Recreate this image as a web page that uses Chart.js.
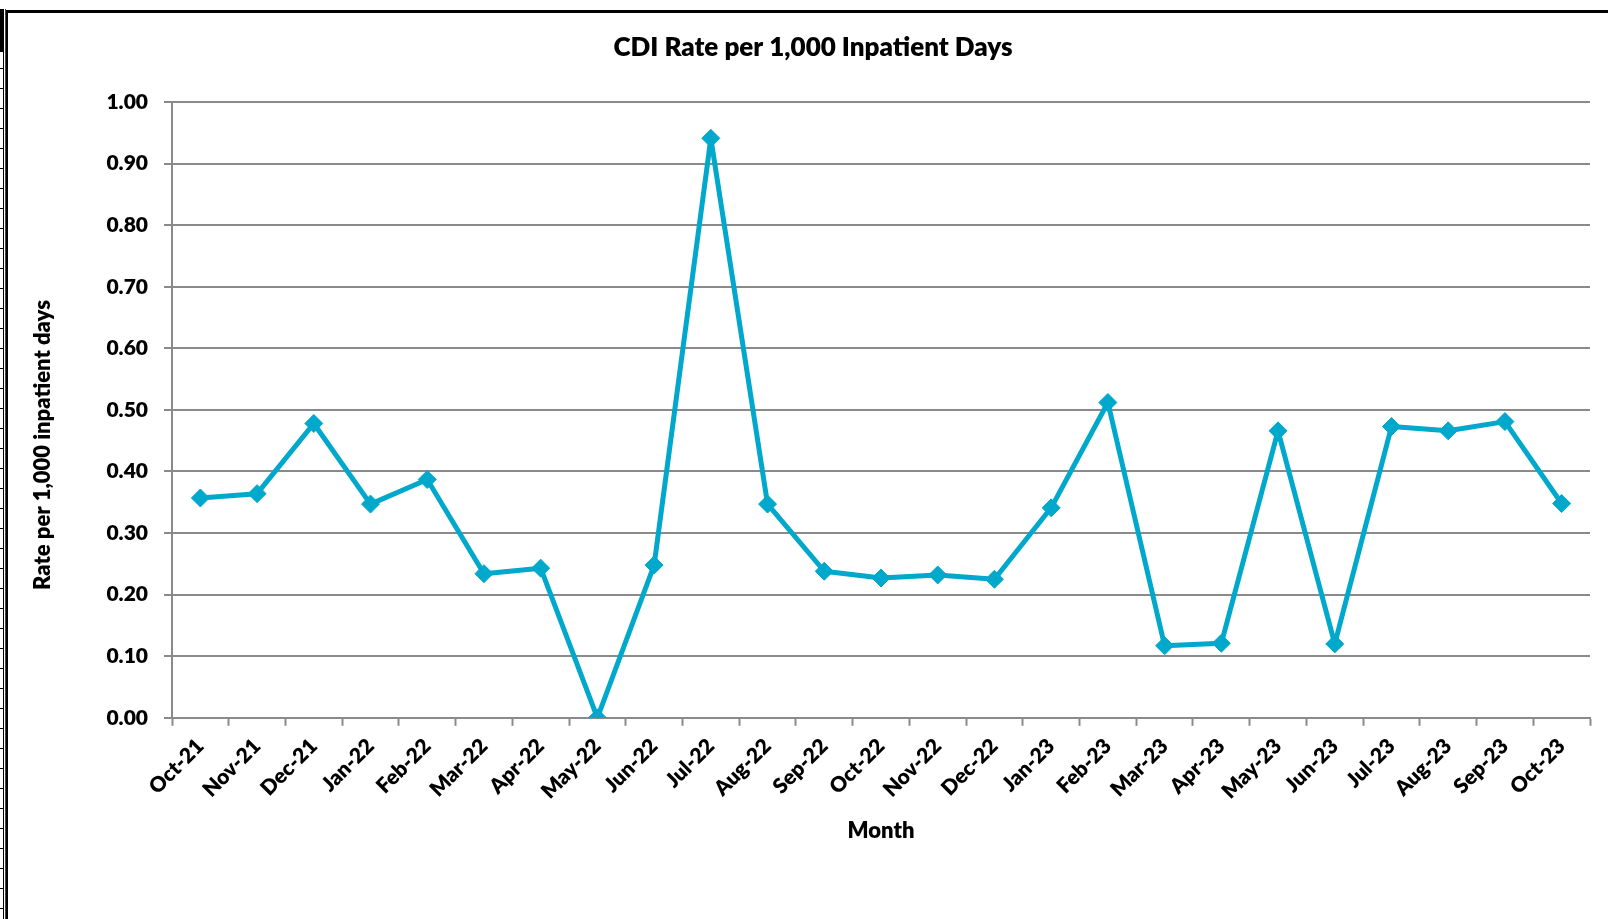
<!DOCTYPE html>
<html>
<head>
<meta charset="utf-8">
<title>CDI Rate per 1,000 Inpatient Days</title>
<script src="https://cdn.jsdelivr.net/npm/chart.js@4.4.1/dist/chart.umd.min.js"></script>
<style>
	html, body { margin: 0; padding: 0; background: #fff; }
	body { width: 1608px; height: 919px; position: relative; overflow: hidden; }
	#myChart { position: absolute; left: 0; top: 0; }
	.frame { position: absolute; left: 6px; top: 10px; right: -10px; bottom: -10px; border-top: 3px solid #000; border-left: 2px solid #000; }
	.edge { position: absolute; left: 0; top: 9px; bottom: 0; width: 4px;
		background: repeating-linear-gradient(to bottom, transparent 0, transparent 19px, #000 19px, #000 20px); }
	.edge-line { position: absolute; left: 3px; top: 9px; bottom: 0; width: 1px; background: #000; }
	.edge-line2 { position: absolute; left: 5px; top: 9px; bottom: 0; width: 1px; background: #444; }
	.edge-block { position: absolute; left: 0; top: 9px; width: 4px; height: 43px; background: #000; }
</style>
</head>
<body>
<div class="edge"></div>
<div class="edge-line"></div>
<div class="edge-line2"></div>
<div class="edge-block"></div>
<div class="frame"></div>
<canvas id="myChart" width="1608" height="919"></canvas>
<script>
const months = ['Oct-21', 'Nov-21', 'Dec-21', 'Jan-22', 'Feb-22', 'Mar-22', 'Apr-22', 'May-22', 'Jun-22', 'Jul-22', 'Aug-22', 'Sep-22', 'Oct-22', 'Nov-22', 'Dec-22', 'Jan-23', 'Feb-23', 'Mar-23', 'Apr-23', 'May-23', 'Jun-23', 'Jul-23', 'Aug-23', 'Sep-23', 'Oct-23'];
const cdiRate = [0.357, 0.364, 0.478, 0.347, 0.387, 0.234, 0.243, 0.0, 0.248, 0.941, 0.347, 0.238, 0.227, 0.232, 0.225, 0.341, 0.512, 0.117, 0.121, 0.466, 0.120, 0.473, 0.466, 0.481, 0.348];
const yTicks = [0, 0.1, 0.2, 0.3, 0.4, 0.5, 0.6, 0.7, 0.8, 0.9, 1.0];

const FONT = 'Lato, "Liberation Sans", sans-serif';
const WEIGHT = '800';
const GRID = '#8a8a8a';
const LINE = '#00a8cc';

// y axis title sits a bit below the plot centre in the original, so it is drawn by hand
const yTitle = {
	id: 'yTitle',
	afterDraw(chart) {
		const ctx = chart.ctx;
		ctx.save();
		ctx.translate(43, 445);
		ctx.rotate(-Math.PI / 2);
		ctx.font = WEIGHT + ' 22px ' + FONT;
		ctx.fillStyle = '#000';
		ctx.textAlign = 'center';
		ctx.textBaseline = 'middle';
		ctx.fillText('Rate per 1,000 inpatient days', 0, 0);
		ctx.restore();
	}
};

const data = {
	labels: months,
	datasets: [{
		label: 'CDI Rate',
		data: cdiRate,
		borderColor: LINE,
		backgroundColor: LINE,
		borderWidth: 5,
		borderJoinStyle: 'round',
		pointStyle: 'rectRot',
		pointRadius: 9,
		pointBorderWidth: 1,
		pointBackgroundColor: LINE,
		pointBorderColor: LINE,
		tension: 0
	}]
};

const config = {
	type: 'line',
	data: data,
	plugins: [yTitle],
	options: {
		responsive: false,
		animation: false,
		devicePixelRatio: 1,
		layout: {
			padding: { left: 36, right: 18, top: 20, bottom: 76 }
		},
		plugins: {
			legend: { display: false },
			tooltip: { enabled: false },
			title: {
				display: true,
				text: 'CDI Rate per 1,000 Inpatient Days',
				color: '#000',
				font: { family: FONT, size: 26, weight: WEIGHT, lineHeight: 1.2 },
				padding: { top: 12, bottom: 38.8 }
			}
		},
		scales: {
			x: {
				offset: true,
				afterFit(scale) { scale.height = 125.2; },
				grid: {
					offset: true,
					drawOnChartArea: false,
					drawTicks: true,
					tickLength: 8,
					tickWidth: 2,
					tickColor: GRID
				},
				border: { display: true, color: GRID, width: 2 },
				ticks: {
					autoSkip: false,
					minRotation: 45,
					maxRotation: 45,
					padding: 8,
					color: '#000',
					font: { family: FONT, size: 21, weight: WEIGHT }
				},
				title: {
					display: true,
					text: 'Month',
					color: '#000',
					font: { family: FONT, size: 22, weight: WEIGHT, lineHeight: 1.2 },
					padding: { top: 0, bottom: -1 }
				}
			},
			y: {
				min: 0,
				max: 1,
				afterFit(scale) { scale.width = 136; },
				afterBuildTicks(scale) { scale.ticks = yTicks.map(v => ({ value: v })); },
				grid: {
					color: GRID,
					lineWidth: 2,
					drawTicks: true,
					tickLength: 8,
					tickColor: GRID
				},
				border: { display: true, color: GRID, width: 2 },
				ticks: {
					padding: 16,
					color: '#000',
					font: { family: FONT, size: 21, weight: WEIGHT },
					callback: v => Number(v).toFixed(2)
				}
			}
		}
	}
};

const ctx = document.getElementById('myChart').getContext('2d');
const myChart = new Chart(ctx, config);
</script>
</body>
</html>
